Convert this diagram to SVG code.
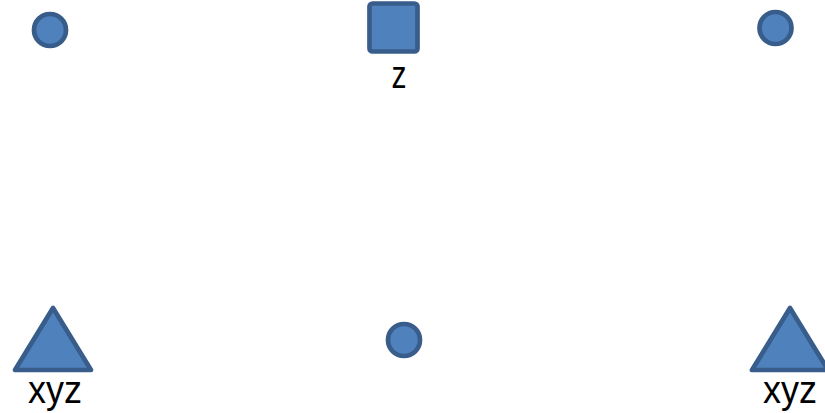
<svg xmlns="http://www.w3.org/2000/svg" width="825" height="413" viewBox="0 0 825 413">
<style>
.n{fill:#4F81BD;stroke:#385D8A;stroke-width:4.7;stroke-linejoin:round}
.t{font-family:"Liberation Sans",Arial,sans-serif;font-size:39px;fill:#000;text-anchor:middle}
</style>
<rect width="825" height="413" fill="#fff"/>
<g id="n1"><circle class="n" cx="50" cy="30" r="16"/></g>
<g id="n2"><rect class="n" x="369.5" y="3.5" width="48" height="48" rx="3"/><text class="t" x="399" y="88" textLength="15" lengthAdjust="spacingAndGlyphs">z</text></g>
<g id="n3"><circle class="n" cx="775.5" cy="28" r="16"/></g>
<g id="n4"><polygon class="n" points="53,308 15,370 91,370"/><text class="t" x="55" y="403" textLength="54" lengthAdjust="spacingAndGlyphs">xyz</text></g>
<g id="n5"><circle class="n" cx="404" cy="340" r="16"/></g>
<g id="n6"><polygon class="n" points="790,308 752,370 828,370"/><text class="t" x="790" y="403" textLength="54" lengthAdjust="spacingAndGlyphs">xyz</text></g>
<g id="connectors"></g>
</svg>
